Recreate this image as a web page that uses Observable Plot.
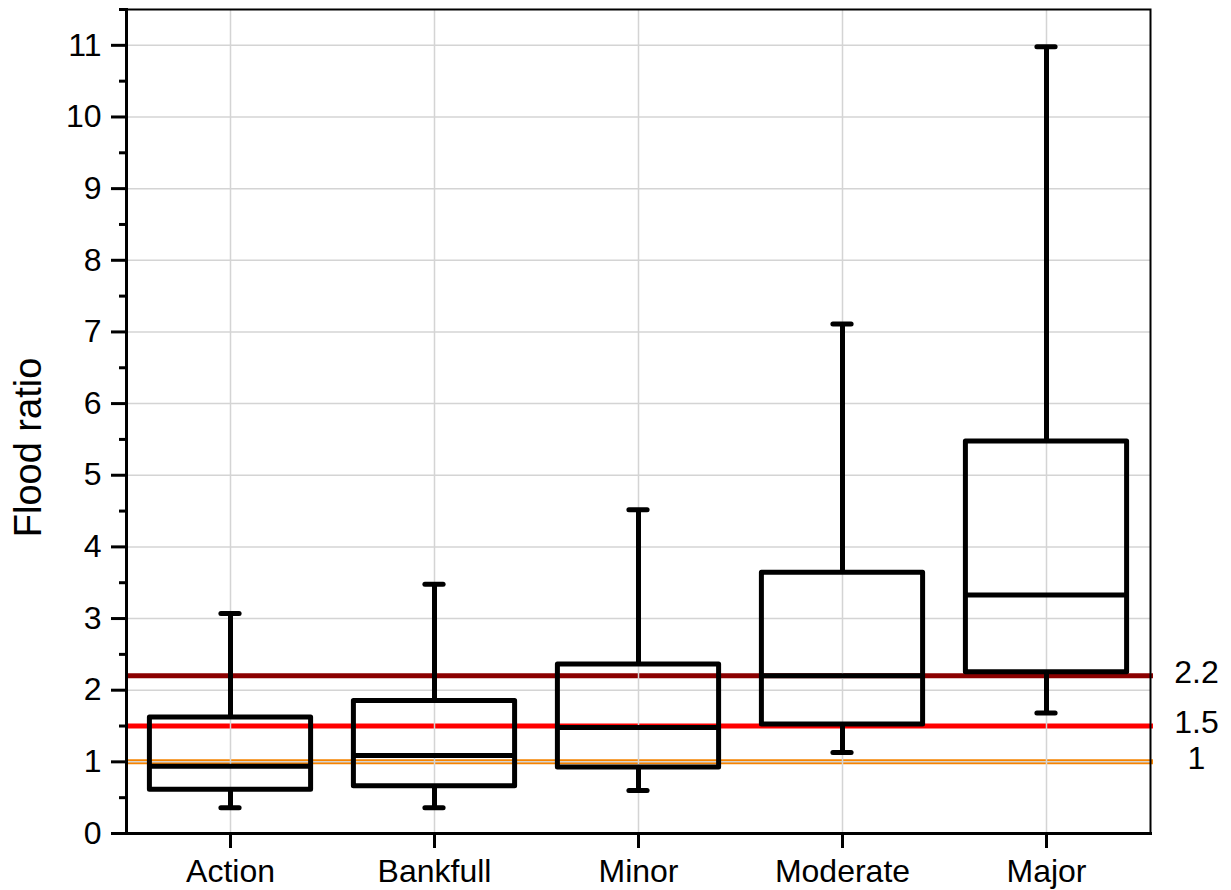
<!DOCTYPE html>
<html>
<head>
<meta charset="utf-8">
<script src="https://cdn.jsdelivr.net/npm/d3@7"></script>
<script src="https://cdn.jsdelivr.net/npm/@observablehq/plot@0.6"></script>
<style>
  html, body { margin: 0; padding: 0; background: #fff; }
</style>
</head>
<body>
<div id="chart"></div>
<script>
const categories = ["Action", "Bankfull", "Minor", "Moderate", "Major"];
const whiskerLow = [0.36, 0.36, 0.60, 1.13, 1.68];
const q1 = [0.61, 0.66, 0.92, 1.52, 2.25];
const median = [0.94, 1.09, 1.48, 2.20, 3.33];
const q3 = [1.62, 1.85, 2.36, 3.64, 5.47];
const whiskerHigh = [3.07, 3.48, 4.52, 7.11, 10.98];

const refValues = [2.2, 1.5, 1];
const refLabels = ["2.2", "1.5", "1"];
const refColors = ["#8b0000", "#ff0000", "#f58300"];
const refWidths = [5, 5, 5];

const yMajorTicks = d3.range(0, 12);
const yMinorTicks = d3.range(0.5, 12, 1);

const boxes = categories.map((c, i) => ({
  cat: c, lo: whiskerLow[i], q1: q1[i], med: median[i], q3: q3[i], hi: whiskerHigh[i]
}));
const refs = refValues.map((v, i) => ({v, label: refLabels[i], color: refColors[i], w: refWidths[i]}));

const W = 1231, H = 890;
const boxInset = 21.4, capInset = 92.9;

const chart = Plot.plot({
  width: W,
  height: H,
  marginLeft: 126,
  marginRight: 81,
  marginTop: 9,
  marginBottom: 57,
  style: {fontFamily: "'Liberation Sans', Arial, sans-serif", background: "#fff", color: "#000"},
  x: {type: "band", domain: categories, padding: 0},
  y: {domain: [0, 11.5]},
  marks: [
    ...refs.map(r => Plot.ruleY([r.v], {stroke: r.color, strokeWidth: r.w, insetRight: -3})),
    Plot.gridY(yMajorTicks, {stroke: "#d4d4d4", strokeOpacity: 1, strokeWidth: 1.5}),
    Plot.gridX({stroke: "#d4d4d4", strokeOpacity: 1, strokeWidth: 1.5}),
    Plot.ruleX(boxes, {x: "cat", y1: "q3", y2: "hi", stroke: "#000", strokeWidth: 5}),
    Plot.ruleX(boxes, {x: "cat", y1: "lo", y2: "q1", stroke: "#000", strokeWidth: 5}),
    Plot.tickY(boxes, {x: "cat", y: "hi", stroke: "#000", strokeWidth: 5, strokeLinecap: "round", insetLeft: capInset, insetRight: capInset}),
    Plot.tickY(boxes, {x: "cat", y: "lo", stroke: "#000", strokeWidth: 5, strokeLinecap: "round", insetLeft: capInset, insetRight: capInset}),
    Plot.rect(boxes, {x: "cat", y1: "q1", y2: "q3", fill: "none", stroke: "#000", strokeWidth: 5, strokeLinejoin: "round", insetLeft: boxInset, insetRight: boxInset}),
    Plot.tickY(boxes, {x: "cat", y: "med", stroke: "#000", strokeWidth: 5, insetLeft: boxInset, insetRight: boxInset}),
    Plot.frame({stroke: "#000", strokeWidth: 2}),
    Plot.frame({anchor: "left", stroke: "#000", strokeWidth: 3}),
    Plot.frame({anchor: "bottom", stroke: "#000", strokeWidth: 3}),
    Plot.axisY(yMajorTicks, {tickSize: 15, tickPadding: 10, fontSize: 32, strokeWidth: 3, label: null, tickFormat: d => String(d)}),
    Plot.axisY(yMinorTicks, {tickSize: 7, strokeWidth: 3, text: null, label: null}),
    Plot.axisX({tickSize: 15, tickPadding: 11, fontSize: 32, strokeWidth: 3, label: null}),
    Plot.text(["Flood ratio"], {frameAnchor: "left", rotate: -90, dx: -98, dy: 26, fontSize: 38, textAnchor: "middle", lineAnchor: "middle", fill: "#000"}),
    Plot.text(refs, {y: "v", text: "label", frameAnchor: "right", dx: 46, dy: -3, fontSize: 32, textAnchor: "middle", lineAnchor: "middle", fill: "#000"})
  ]
});
document.getElementById("chart").appendChild(chart);
</script>
</body>
</html>
